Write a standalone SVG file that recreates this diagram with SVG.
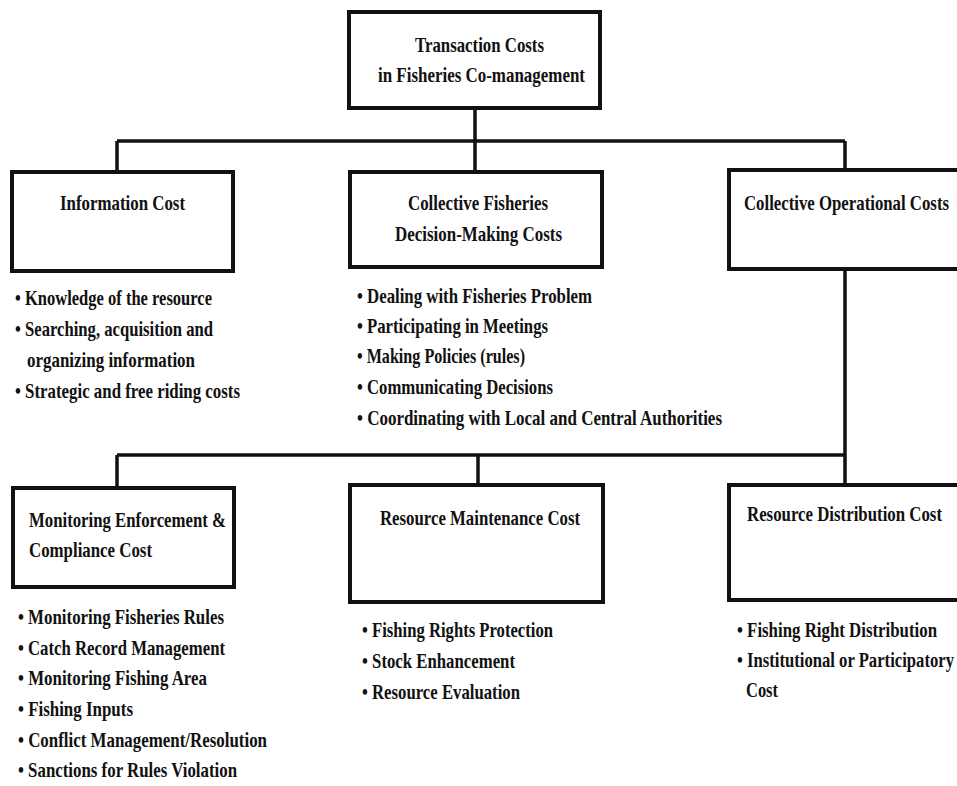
<svg xmlns="http://www.w3.org/2000/svg" width="957" height="786" viewBox="0 0 957 786">
<style>
.bg{fill:#ffffff}
.box{fill:#ffffff;stroke:#111111;stroke-width:4}
.ln{fill:none;stroke:#111111;stroke-width:3.5}
.t{font-family:"Liberation Serif","Times New Roman",serif;font-weight:bold;font-size:21px;fill:#111111}
</style>
<rect class="bg" x="0" y="0" width="957" height="786"/>
<g id="connectors">
<line class="ln" x1="475" y1="108" x2="475" y2="172"/>
<line class="ln" x1="117" y1="141" x2="845" y2="141"/>
<line class="ln" x1="117" y1="141" x2="117" y2="172"/>
<line class="ln" x1="845" y1="141" x2="845" y2="170"/>
<line class="ln" x1="845" y1="269" x2="845" y2="485"/>
<line class="ln" x1="117" y1="455" x2="845" y2="455"/>
<line class="ln" x1="117" y1="455" x2="117" y2="488"/>
<line class="ln" x1="478" y1="455" x2="478" y2="485"/>
</g>
<g id="root">
<rect class="box" x="349" y="12" width="251" height="96"/>
<text class="t" x="415" y="52" textLength="129" lengthAdjust="spacingAndGlyphs">Transaction Costs</text>
<text class="t" x="378" y="82" textLength="207" lengthAdjust="spacingAndGlyphs">in Fisheries Co-management</text>
</g>
<g id="information-cost">
<rect class="box" x="12" y="172" width="221" height="99"/>
<text class="t" x="60" y="210" textLength="125" lengthAdjust="spacingAndGlyphs">Information Cost</text>
<text class="t" x="15" y="305" textLength="197" lengthAdjust="spacingAndGlyphs">• Knowledge of the resource</text>
<text class="t" x="15" y="336" textLength="198" lengthAdjust="spacingAndGlyphs">• Searching, acquisition and</text>
<text class="t" x="27" y="367" textLength="168" lengthAdjust="spacingAndGlyphs">organizing information</text>
<text class="t" x="15" y="398" textLength="225" lengthAdjust="spacingAndGlyphs">• Strategic and free riding costs</text>
</g>
<g id="decision-making">
<rect class="box" x="350" y="172" width="252" height="95"/>
<text class="t" x="408" y="210" textLength="140" lengthAdjust="spacingAndGlyphs">Collective Fisheries</text>
<text class="t" x="395" y="241" textLength="167" lengthAdjust="spacingAndGlyphs">Decision-Making Costs</text>
<text class="t" x="357" y="303" textLength="235" lengthAdjust="spacingAndGlyphs">• Dealing with Fisheries Problem</text>
<text class="t" x="357" y="333" textLength="191" lengthAdjust="spacingAndGlyphs">• Participating in Meetings</text>
<text class="t" x="357" y="363" textLength="168" lengthAdjust="spacingAndGlyphs">• Making Policies (rules)</text>
<text class="t" x="357" y="394" textLength="196" lengthAdjust="spacingAndGlyphs">• Communicating Decisions</text>
<text class="t" x="357" y="425" textLength="365" lengthAdjust="spacingAndGlyphs">• Coordinating with Local and Central Authorities</text>
</g>
<g id="operational-costs">
<rect class="box" x="729" y="170" width="240" height="99"/>
<text class="t" x="744" y="210" textLength="205" lengthAdjust="spacingAndGlyphs">Collective Operational Costs</text>
</g>
<g id="monitoring-enforcement">
<rect class="box" x="13" y="488" width="221" height="99"/>
<text class="t" x="29" y="527" textLength="197" lengthAdjust="spacingAndGlyphs">Monitoring Enforcement &amp;</text>
<text class="t" x="29" y="557" textLength="123" lengthAdjust="spacingAndGlyphs">Compliance Cost</text>
<text class="t" x="18" y="624" textLength="206" lengthAdjust="spacingAndGlyphs">• Monitoring Fisheries Rules</text>
<text class="t" x="18" y="655" textLength="207" lengthAdjust="spacingAndGlyphs">• Catch Record Management</text>
<text class="t" x="18" y="685" textLength="189" lengthAdjust="spacingAndGlyphs">• Monitoring Fishing Area</text>
<text class="t" x="18" y="716" textLength="115" lengthAdjust="spacingAndGlyphs">• Fishing Inputs</text>
<text class="t" x="18" y="747" textLength="249" lengthAdjust="spacingAndGlyphs">• Conflict Management/Resolution</text>
<text class="t" x="18" y="777" textLength="219" lengthAdjust="spacingAndGlyphs">• Sanctions for Rules Violation</text>
</g>
<g id="resource-maintenance">
<rect class="box" x="350" y="485" width="253" height="117"/>
<text class="t" x="380" y="525" textLength="200" lengthAdjust="spacingAndGlyphs">Resource Maintenance Cost</text>
<text class="t" x="362" y="637" textLength="191" lengthAdjust="spacingAndGlyphs">• Fishing Rights Protection</text>
<text class="t" x="362" y="668" textLength="153" lengthAdjust="spacingAndGlyphs">• Stock Enhancement</text>
<text class="t" x="362" y="699" textLength="158" lengthAdjust="spacingAndGlyphs">• Resource Evaluation</text>
</g>
<g id="resource-distribution">
<rect class="box" x="729" y="485" width="240" height="115"/>
<text class="t" x="747" y="521" textLength="195" lengthAdjust="spacingAndGlyphs">Resource Distribution Cost</text>
<text class="t" x="737" y="637" textLength="200" lengthAdjust="spacingAndGlyphs">• Fishing Right Distribution</text>
<text class="t" x="737" y="667" textLength="217" lengthAdjust="spacingAndGlyphs">• Institutional or Participatory</text>
<text class="t" x="746" y="697" textLength="32" lengthAdjust="spacingAndGlyphs">Cost</text>
</g>
</svg>
